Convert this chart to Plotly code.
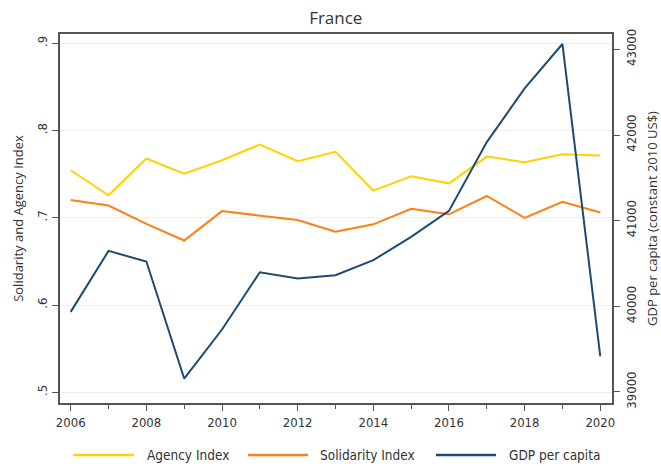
import plotly.graph_objects as go

years = list(range(2006, 2021))
agency_index = [0.7545, 0.7258, 0.768, 0.7507, 0.766, 0.784, 0.7648, 0.7756,
                0.7312, 0.7476, 0.7395, 0.7702, 0.7636, 0.7728, 0.7713]
solidarity_index = [0.7203, 0.714, 0.6931, 0.674, 0.7077, 0.7023, 0.6974, 0.6841,
                    0.6925, 0.7103, 0.704, 0.725, 0.70, 0.7184, 0.706]
gdp_per_capita = [39935, 40647, 40523, 39157, 39729, 40398, 40325, 40363,
                  40539, 40811, 41114, 41917, 42544, 43062, 39417]

series_names = ["Agency Index", "Solidarity Index", "GDP per capita"]

left_ticks = [0.5, 0.6, 0.7, 0.8, 0.9]
left_labels = [".5", ".6", ".7", ".8", ".9"]
right_ticks = [39000, 40000, 41000, 42000, 43000]
x_label_years = list(range(2006, 2021, 2))

YELLOW = "#FFD200"
ORANGE = "#FF7F12"
NAVY = "#1E4A72"
COLORS = [YELLOW, ORANGE, NAVY]
AXIS = "#555555"
TEXT = "#333333"
NARROW = "DejaVu Sans Condensed, Roboto, sans-serif"
TICK_FONT = dict(family=NARROW, size=13, color=TEXT)
LEGEND_FONT = dict(family=NARROW, size=13.5, color=TEXT)
TITLE_FAMILY = "Open Sans"

W, H = 661, 466
M_L, M_R, M_T, M_B = 60, 49, 34, 63
PLOT_W = W - M_L - M_R
PLOT_H = H - M_T - M_B


def px_to_paper_x(px):
    return (px - M_L) / PLOT_W


def px_to_paper_y(py):
    return (H - M_B - py) / PLOT_H


fig = go.Figure()
fig.add_trace(go.Scatter(x=years, y=agency_index, mode="lines", name=series_names[0],
                         line=dict(color=YELLOW, width=2)))
fig.add_trace(go.Scatter(x=years, y=solidarity_index, mode="lines", name=series_names[1],
                         line=dict(color=ORANGE, width=2)))
fig.add_trace(go.Scatter(x=years, y=gdp_per_capita, mode="lines", name=series_names[2],
                         line=dict(color=NAVY, width=2), yaxis="y2"))

# Legend row below the plot: long line swatches followed by the series names
legend_y = px_to_paper_y(455)
swatches = [(73, 134, 145), (248, 308, 318), (436, 496, 507)]
for name, color, (x0, x1, xt) in zip(series_names, COLORS, swatches):
    fig.add_shape(type="line", xref="paper", yref="paper",
                  x0=px_to_paper_x(x0), x1=px_to_paper_x(x1), y0=legend_y, y1=legend_y,
                  line=dict(color=color, width=2.5))
    fig.add_annotation(text=name, xref="paper", yref="paper", x=px_to_paper_x(xt), y=legend_y,
                       xanchor="left", yanchor="middle", showarrow=False, font=LEGEND_FONT)

fig.update_layout(
    width=W, height=H,
    margin=dict(l=M_L, r=M_R, t=M_T, b=M_B, autoexpand=False),
    paper_bgcolor="white", plot_bgcolor="white",
    title=dict(text="France", x=0.508, xanchor="center", y=0.962, yanchor="middle",
               font=dict(family=TITLE_FAMILY, size=17, color=TEXT)),
    xaxis=dict(
        range=[2005.717, 2020.31],
        tickmode="array", tickvals=x_label_years, ticktext=[str(y) for y in x_label_years],
        ticks="outside", ticklen=6, tickwidth=1.3, tickcolor=AXIS,
        minor=dict(tickmode="array", tickvals=list(range(2007, 2020, 2)),
                   ticks="outside", ticklen=4, tickwidth=1.3, tickcolor=AXIS, showgrid=False),
        showline=True, linecolor=AXIS, linewidth=2, mirror=True,
        showgrid=False, zeroline=False, tickfont=TICK_FONT, automargin=False,
    ),
    yaxis=dict(
        range=[0.4877, 0.9107],
        tickmode="array", tickvals=left_ticks, ticktext=left_labels, tickangle=-90,
        ticks="outside", ticklen=6, tickwidth=1.3, tickcolor=AXIS,
        showline=True, linecolor=AXIS, linewidth=2,
        showgrid=True, gridcolor="#EEEEEE", gridwidth=1, zeroline=False,
        tickfont=TICK_FONT, automargin=False,
        title=dict(text="Solidarity and Agency Index", standoff=8,
                   font=dict(family=TITLE_FAMILY, size=13, color=TEXT)),
    ),
    yaxis2=dict(
        range=[38871.5, 43179], overlaying="y", side="right",
        tickmode="array", tickvals=right_ticks, ticktext=[str(v) for v in right_ticks], tickangle=-90,
        ticks="outside", ticklen=6, tickwidth=1.3, tickcolor=AXIS,
        showline=True, linecolor=AXIS, linewidth=2,
        showgrid=False, zeroline=False, tickfont=TICK_FONT, automargin=False,
        title=dict(text="GDP per capita (constant 2010 US$)", standoff=18,
                   font=dict(family=TITLE_FAMILY, size=13, color=TEXT)),
    ),
    showlegend=False,
)

fig.write_html("out.html")
